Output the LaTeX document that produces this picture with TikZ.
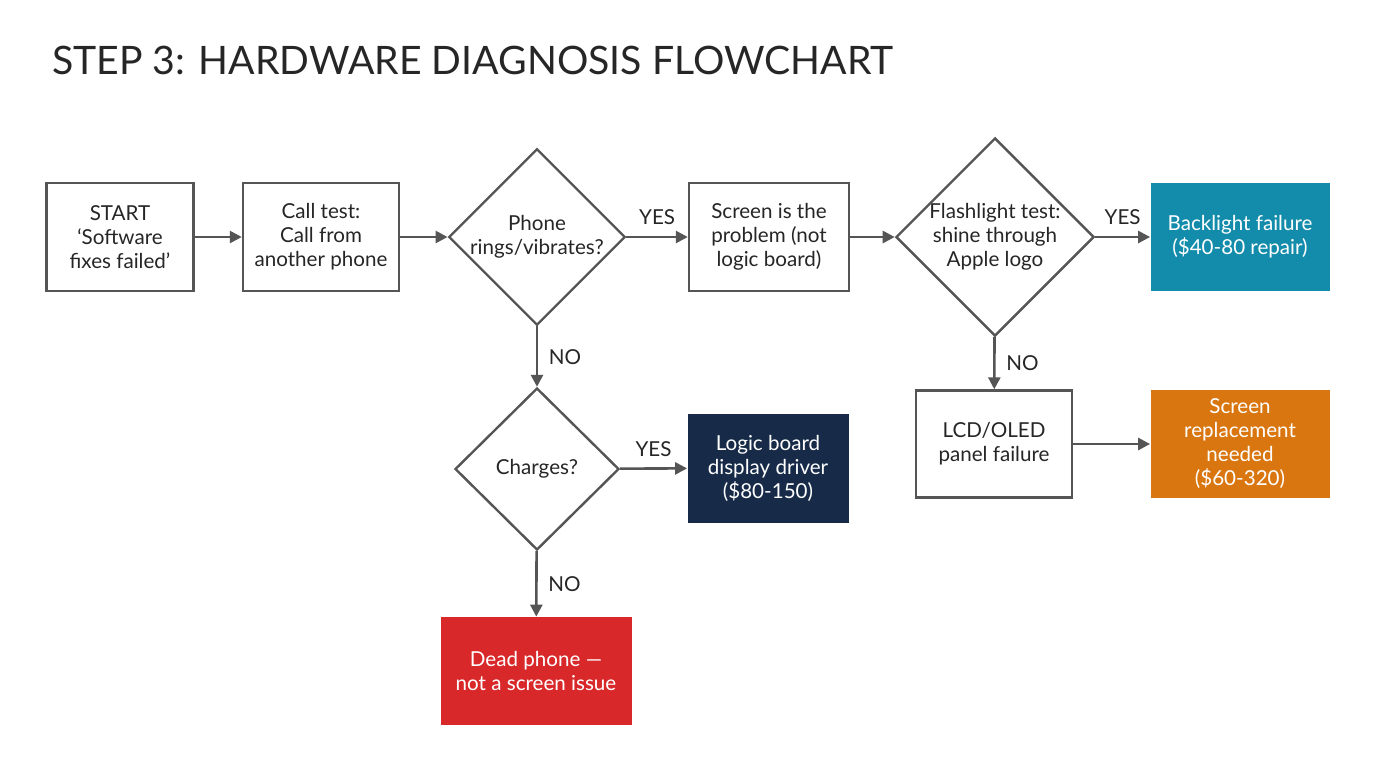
\documentclass[tikz,border=0pt]{standalone}
\usepackage{fontspec}
\setmainfont{Lato}
\usetikzlibrary{shapes.geometric,arrows.meta}
\definecolor{linegray}{HTML}{555555}
\definecolor{tealbox}{HTML}{138BAB}
\definecolor{navybox}{HTML}{172B49}
\definecolor{redbox}{HTML}{D8282A}
\definecolor{orangebox}{HTML}{D9760F}
\begin{document}
\begin{tikzpicture}[x=0.5pt,y=0.5pt,
  every node/.style={font=\fontsize{10.3}{12}\selectfont, text=black!85},
  box/.style={draw=linegray, line width=1.2pt, fill=white, align=center, inner sep=0pt},
  solid/.style={align=center, inner sep=0pt, text=white},
  test/.style={diamond, draw=linegray, line width=1.2pt, fill=white, align=center, inner sep=0pt, aspect=1},
  arr/.style={draw=linegray, line width=1.3pt, -{Triangle[length=6pt,width=6pt]}},
  lbl/.style={font=\fontsize{10.3}{12}\selectfont}]
\useasboundingbox[fill=white] (0,0) rectangle (1376,-768);
\node[anchor=west, font=\fontsize{19.6}{23}\selectfont] (title) at (45,-60) {STEP 3: HARDWARE DIAGNOSIS FLOWCHART};
% top row
\node[box, minimum width=73.5pt, minimum height=54pt] (start) at (120,-237) {START\\‘Software\\fixes failed’};
\node[box, minimum width=78pt, minimum height=54pt] (call) at (321,-237) {Call test:\\Call from\\another phone};
\node[test, minimum width=88pt, minimum height=87pt] (rings) at (537,-237) {Phone\\rings/vibrates?};
\node[box, minimum width=80pt, minimum height=54pt] (screen) at (769,-237) {Screen is the\\problem (not\\logic board)};
\node[test, minimum width=96pt, minimum height=95pt] (flash) at (995,-237) {Flashlight test:\\shine through\\Apple logo};
\node[solid, fill=tealbox, minimum width=89.5pt, minimum height=54pt] (backlight) at (1240,-237) {Backlight failure\\(\$40-80 repair)};
% lower branches
\node[test, minimum width=82pt, minimum height=81pt] (charges) at (537,-469) {Charges?};
\node[solid, fill=navybox, minimum width=80.5pt, minimum height=54.5pt] (logic) at (768,-468) {Logic board\\display driver\\(\$80-150)};
\node[solid, fill=redbox, minimum width=95.5pt, minimum height=54pt] (dead) at (536,-671) {Dead phone —\\not a screen issue};
\node[box, minimum width=78pt, minimum height=53.5pt] (lcd) at (994,-444) {LCD/OLED\\panel failure};
\node[solid, fill=orangebox, minimum width=89.5pt, minimum height=54pt] (repl) at (1240,-444) {Screen\\replacement\\needed\\(\$60-320)};
% connectors
\draw[arr] (start) -- (call);
\draw[arr] (call) -- (rings);
\draw[arr] (rings) -- node[lbl, above=2pt] {YES} (screen);
\draw[arr] (screen) -- (flash);
\draw[arr] (flash) -- node[lbl, above=2pt] {YES} (backlight);
\draw[arr] (rings) -- node[lbl, right=2pt] {NO} (charges);
\draw[arr] (charges) -- node[lbl, above=2pt] {YES} (logic);
\draw[arr] (charges) -- node[lbl, right=2pt] {NO} (dead);
\draw[arr] (flash) -- node[lbl, right=2pt] {NO} (lcd);
\draw[arr] (lcd) -- (repl);
\end{tikzpicture}
\end{document}
